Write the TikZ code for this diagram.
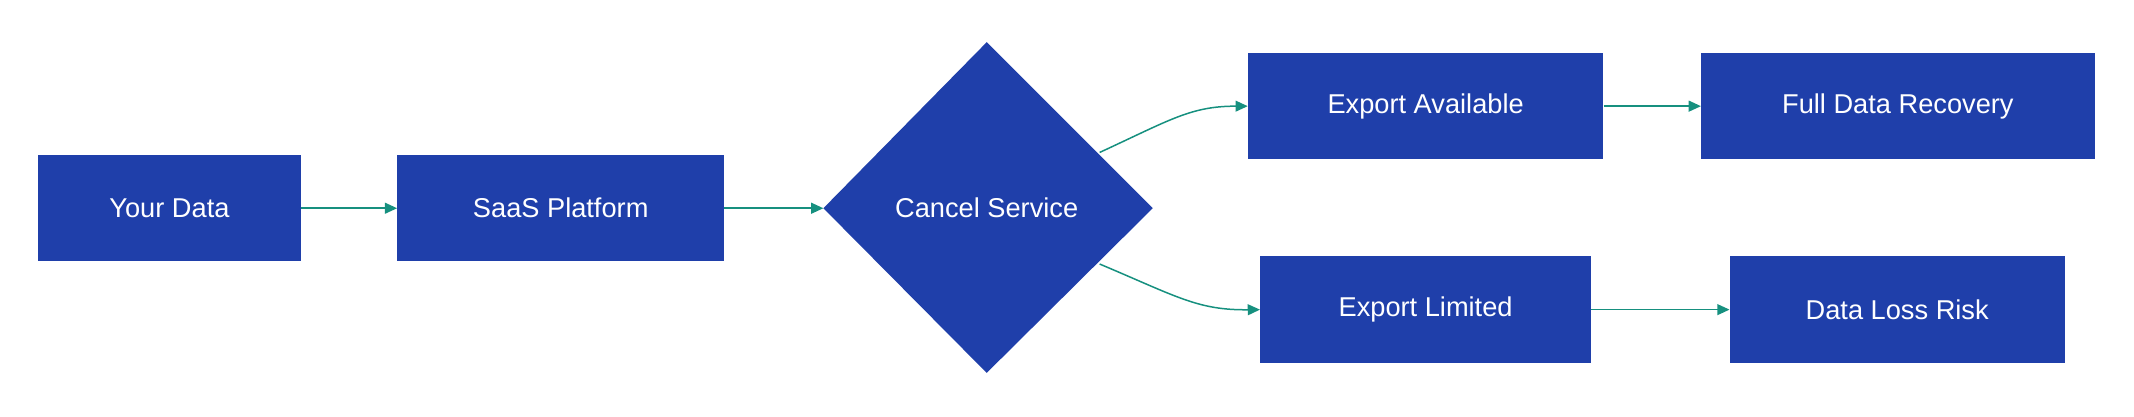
\documentclass[tikz,border=0pt]{standalone}
\usepackage{fontspec}
\setmainfont{Liberation Sans}
\usetikzlibrary{shapes.geometric,arrows.meta}
\definecolor{boxblue}{HTML}{1F3FAA}
\definecolor{teal2}{HTML}{16907F}
\begin{document}
\begin{tikzpicture}[x=1pt,y=-1pt,
  box/.style={draw=none,fill=boxblue,text=white,font=\fontsize{20}{24}\selectfont,inner sep=0},
  arr/.style={draw=teal2,line width=1.1pt,-{Triangle[length=9pt,width=8pt]}}]
\useasboundingbox (0,0) rectangle (1568,306);
\node[box,minimum width=193,minimum height=78] (a) at (124.5,153) {Your Data};
\node[box,minimum width=240,minimum height=78] (b) at (412,153) {SaaS Platform};
\path[fill=boxblue] (605,153) -- (725,31) -- (847,153) -- (725,274) -- cycle;
\node[text=white,font=\fontsize{20}{24}\selectfont] (c) at (725,153) {Cancel Service};
\coordinate (cl) at (605,153);
\coordinate (cu) at (808,112);
\coordinate (cd) at (808,194);
\node[box,minimum width=261,minimum height=78] (d) at (1047.5,78) {Export Available};
\node[box,minimum width=289,minimum height=78] (e) at (1394.5,78) {Full Data Recovery};
\node[box,minimum width=243,minimum height=79] (f) at (1047.5,227.5) {Export Limited};
\node[box,minimum width=246,minimum height=79] (g) at (1394,227.5) {Data Loss Risk};
\draw[arr] (a) -- (b);
\draw[arr] (b) -- (cl);
\draw[arr] (cu) .. controls (860,88) and (875,78) .. (d.west);
\draw[arr] (cd) .. controls (865,218) and (880,228) .. (f.west);
\draw[arr] (d) -- (e);
\draw[arr] (f) -- (g);
\end{tikzpicture}
\end{document}
